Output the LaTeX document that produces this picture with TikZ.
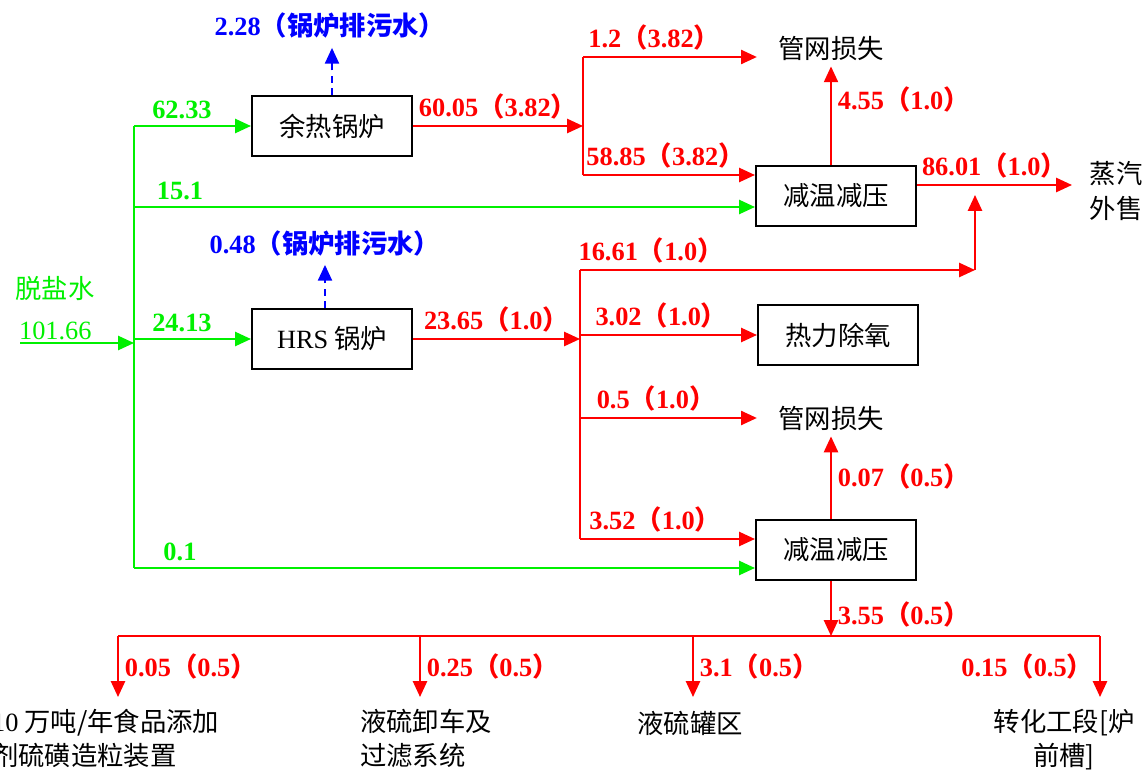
\documentclass[tikz,border=0pt]{standalone}
\usepackage{fontspec}
\setmainfont{Liberation Serif}
\newfontfamily\cjk{Noto Sans CJK SC}
\usetikzlibrary{arrows.meta}
\definecolor{watergreen}{RGB}{0,240,0}
\definecolor{steamred}{RGB}{255,0,0}
\definecolor{blowblue}{RGB}{0,0,255}
\newcommand\flowval[2]{#1{\cjk（}#2{\cjk）}}
\begin{document}
\begin{tikzpicture}[x=0.02cm,y=-0.02cm,
    plant/.style={draw,line width=1.2pt,minimum width=3.2cm,minimum height=1.2cm,font=\fontsize{15}{18}\selectfont\cjk},
    site/.style={font=\fontsize{15}{19.5}\selectfont\cjk},
    flowlbl/.style={font=\fontsize{15}{18}\selectfont\bfseries},
    water/.style={watergreen,line width=1.2pt,-{Triangle[length=9pt,width=8pt]}},
    steam/.style={steamred,line width=1.2pt,-{Triangle[length=9pt,width=8pt]}},
    blow/.style={blowblue,line width=1.2pt,dash pattern=on 4pt off 3pt,-{Triangle[length=9pt,width=8pt]}}]
    \useasboundingbox (0,0) rectangle (1148,773);
    \node[plant] (whb) at (332,126) {余热锅炉};
    \node[plant] (hrs) at (332,339) {{\rmfamily HRS} 锅炉};
    \node[plant] (tr1) at (836,196) {减温减压};
    \node[plant] (deox) at (838,335) {热力除氧};
    \node[plant] (tr2) at (836,550) {减温减压};
    \node[site,inner xsep=12pt] (loss1) at (831,48) {管网损失};
    \node[site,inner xsep=12pt] (loss2) at (831,418) {管网损失};
    \node[site,align=left,anchor=west,inner xsep=10pt] (sale) at (1072,191) {蒸汽\\外售};
    \node[site,align=left,anchor=north west,inner ysep=6.5pt] (dest1) at (-14,697) {{\rmfamily 10} 万吨/年食品添加\\剂硫磺造粒装置};
    \node[site,align=left,anchor=north west,inner ysep=6.5pt] (dest2) at (354,697) {液硫卸车及\\过滤系统};
    \node[site,anchor=north,inner ysep=8pt] (dest3) at (690,697) {液硫罐区};
    \node[site,align=center,anchor=north,inner ysep=6.5pt] (dest4) at (1064,697) {转化工段[炉\\前槽]};
    \node[site,watergreen] (feed) at (55,288) {脱盐水};
    \node[flowlbl,blowblue,inner ysep=5pt] (blow1) at (330,26) {2.28{\cjk（锅炉排污水）}};
    \node[flowlbl,blowblue,inner ysep=5pt] (blow2) at (325,243) {0.48{\cjk（锅炉排污水）}};
    \coordinate (inlet) at (20,343);
    \coordinate (gtop) at (134,126);
    \coordinate (g15) at (134,207);
    \coordinate (gbot) at (134,568);
    \coordinate (j1top) at (583,57);
    \coordinate (j1bot) at (583,175);
    \coordinate (j2top) at (580,270);
    \coordinate (j2bot) at (580,539);
    \coordinate (mix) at (975,185);
    \coordinate (b1) at (118,636);
    \coordinate (b2) at (420,636);
    \coordinate (b3) at (693,636);
    \coordinate (b4) at (1100,636);
    \draw[water] (inlet) -- node[above,pos=.31,inner sep=1pt,font=\fontsize{15}{18}\selectfont]{101.66} (inlet -| gtop);
    \draw[watergreen,line width=1.2pt] (gtop) -- (gbot);
    \draw[water] (gtop) -- node[flowlbl,above,pos=.41]{62.33} (gtop -| whb.west);
    \draw[water] (g15) -- node[flowlbl,above,pos=.074]{15.1} (g15 -| tr1.west);
    \draw[water] (gtop |- hrs.west) -- node[flowlbl,above,pos=.41]{24.13} (hrs.west);
    \draw[water] (gbot) -- node[flowlbl,above,pos=.074]{0.1} (gbot -| tr2.west);
    \draw[steam] (whb.east) -- node[flowlbl,above]{\flowval{60.05}{3.82}} (whb.east -| j1top);
    \draw[steamred,line width=1.2pt] (j1top) -- (j1bot);
    \draw[steam] (j1top) -- node[flowlbl,above,pos=.41]{\flowval{1.2}{3.82}} (loss1.west |- j1top);
    \draw[steam] (j1bot) -- node[flowlbl,above,pos=.48]{\flowval{58.85}{3.82}} (j1bot -| tr1.west);
    \draw[steam] (tr1.north -| loss1.south) -- node[flowlbl,right,pos=.66]{\flowval{4.55}{1.0}} (loss1.south);
    \draw[steam] (tr1.east |- mix) -- node[flowlbl,above]{\flowval{86.01}{1.0}} (sale.west |- mix);
    \draw[steam] (j2top) -- node[flowlbl,above,pos=.18]{\flowval{16.61}{1.0}} (mix |- j2top);
    \draw[steam] (mix |- j2top) -- ([yshift=-0.2cm]mix);
    \draw[steam] (hrs.east) -- node[flowlbl,above]{\flowval{23.65}{1.0}} (hrs.east -| j2top);
    \draw[steamred,line width=1.2pt] (j2top) -- (j2bot);
    \draw[steam] (deox.west -| j2top) -- node[flowlbl,above,pos=.46]{\flowval{3.02}{1.0}} (deox.west);
    \draw[steam] (loss2.west -| j2top) -- node[flowlbl,above,pos=.43]{\flowval{0.5}{1.0}} (loss2.west);
    \draw[steam] (j2bot) -- node[flowlbl,above,pos=.43]{\flowval{3.52}{1.0}} (j2bot -| tr2.west);
    \draw[steam] (tr2.north -| loss2.south) -- node[flowlbl,right,pos=.52]{\flowval{0.07}{0.5}} (loss2.south);
    \draw[steam] (tr2.south -| loss2.south) -- node[flowlbl,right,pos=.6]{\flowval{3.55}{0.5}} (loss2.south |- b1);
    \draw[steamred,line width=1.2pt] (b1) -- (b4);
    \draw[steam] (b1) -- node[flowlbl,right]{\flowval{0.05}{0.5}} (b1 |- dest1.north);
    \draw[steam] (b2) -- node[flowlbl,right]{\flowval{0.25}{0.5}} (b2 |- dest2.north);
    \draw[steam] (b3) -- node[flowlbl,right]{\flowval{3.1}{0.5}} (b3 |- dest3.north);
    \draw[steam] (b4) -- node[flowlbl,left]{\flowval{0.15}{0.5}} (b4 |- dest4.north);
    \draw[blow] (whb.north) -- (whb.north |- blow1.south);
    \draw[blow] (hrs.north -| blow2.south) -- (blow2.south);
\end{tikzpicture}
\end{document}
